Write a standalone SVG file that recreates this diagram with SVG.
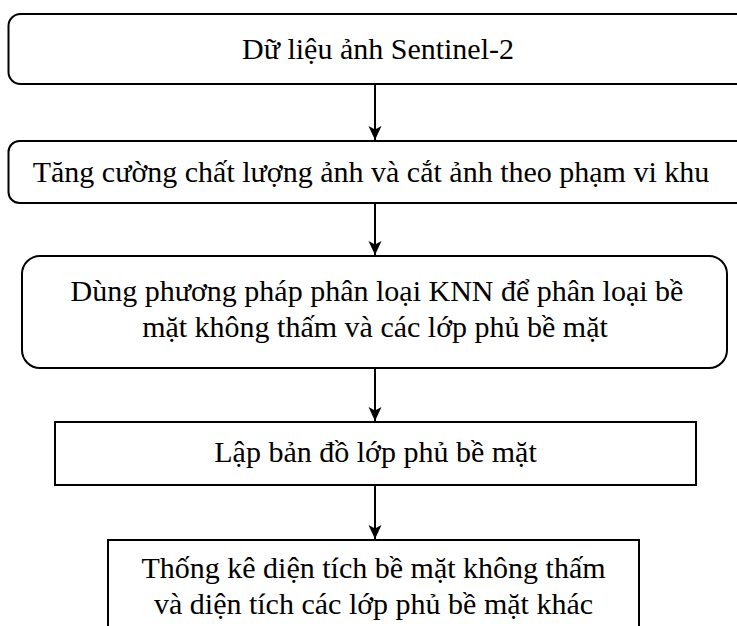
<svg xmlns="http://www.w3.org/2000/svg" width="737" height="626" viewBox="0 0 737 626" font-family="'Liberation Serif', 'Times New Roman', Times, serif">
<style>
.box{fill:#fff;stroke:#000;stroke-width:2}
.t{font-family:'Liberation Serif','Times New Roman',Times,serif;font-size:30px;font-weight:normal;fill:#000;text-anchor:middle}
.c{stroke:#000;stroke-width:2;fill:none}
</style>
<defs>
<marker id="ah" markerUnits="userSpaceOnUse" markerWidth="16" markerHeight="16" viewBox="-15 -8 16 16" refX="0" refY="0" orient="auto" overflow="visible">
<path d="M0,0 L-14,-6.5 L-10.5,0 L-14,6.5 Z" fill="#000"/>
</marker>
</defs>
<rect width="737" height="626" fill="#fff"/>
<g id="n1">
<rect class="box" x="8.5" y="14" width="760" height="70" rx="12"/>
<text class="t" x="378" y="59">Dữ liệu ảnh Sentinel-2</text>
</g>
<g id="n2">
<rect class="box" x="8.5" y="141" width="760" height="62" rx="11"/>
<text class="t" x="371" y="182">Tăng cường chất lượng ảnh và cắt ảnh theo phạm vi khu</text>
</g>
<g id="n3">
<rect class="box" x="22" y="256" width="705" height="112" rx="18"/>
<text class="t" x="377" y="301">Dùng phương pháp phân loại KNN để phân loại bề</text>
<text class="t" x="375" y="337">mặt không thấm và các lớp phủ bề mặt</text>
</g>
<g id="n4">
<rect class="box" x="55" y="422" width="641" height="63"/>
<text class="t" x="375.5" y="462">Lập bản đồ lớp phủ bề mặt</text>
</g>
<g id="n5">
<rect class="box" x="108" y="540" width="531" height="100"/>
<text class="t" x="373.5" y="578">Thống kê diện tích bề mặt không thấm</text>
<text class="t" x="373.5" y="614">và diện tích các lớp phủ bề mặt khác</text>
</g>
<g id="connectors">
<line class="c" x1="375" y1="84" x2="375" y2="140" marker-end="url(#ah)"/>
<line class="c" x1="375" y1="203" x2="375" y2="255" marker-end="url(#ah)"/>
<line class="c" x1="375" y1="368" x2="375" y2="421" marker-end="url(#ah)"/>
<line class="c" x1="375" y1="485" x2="375" y2="539" marker-end="url(#ah)"/>
</g>
</svg>
